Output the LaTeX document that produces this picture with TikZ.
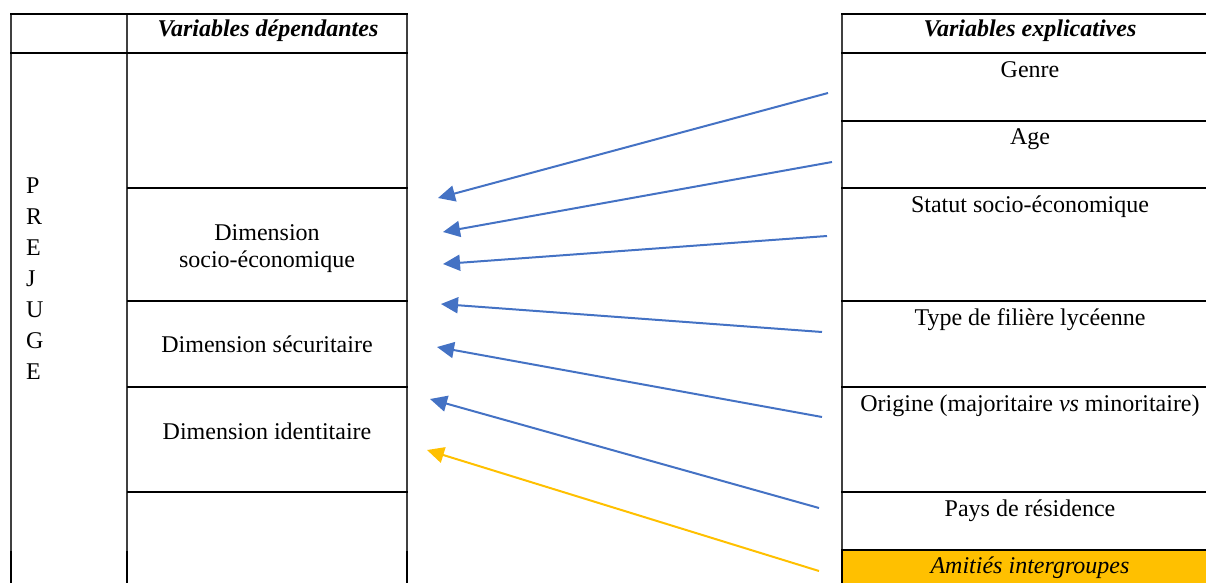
\documentclass[tikz,border=0pt]{standalone}
\usepackage{fontspec}
\setmainfont{Liberation Serif}
\usetikzlibrary{arrows.meta}

\definecolor{fleche}{HTML}{4472C4}
\definecolor{amitie}{HTML}{FFC000}

\begin{document}
\begin{tikzpicture}[x=1pt,y=-1pt,
    trait/.style={line width=2pt},
    bord/.style={line width=1.2pt,black!75},
    texte/.style={font=\fontsize{24}{27.5}\selectfont,inner sep=0pt},
    titre/.style={inner sep=0pt,font=\fontsize{24}{27.5}\selectfont\bfseries\itshape},
    lien/.style={line width=2pt,-{Triangle[length=17pt,width=16pt]}}]
    \useasboundingbox (0,0) rectangle (1206,583);

    % fond
    \fill[amitie] (842,550) rectangle (1206,583);

    % tableau gauche
    \foreach \x in {11,127,407}
        \draw[bord] (\x,14) -- (\x,583);
    \foreach \x in {11,127,407}
        \draw[trait] (\x,551) -- (\x,583);
    \draw[trait] (10,14) -- (408,14);
    \draw[trait] (10,53) -- (408,53);
    \foreach \y in {188,301,387,492}
        \draw[trait] (127,\y) -- (408,\y);

    % tableau droit
    \draw[bord] (842,14) -- (842,583);
    \draw[trait] (842,550) -- (842,583);
    \foreach \y in {14,53,121,188,301,387,492,550}
        \draw[trait] (841,\y) -- (1206,\y);

    % titres
    \node[titre,anchor=base] (hdep) at (268,36.5) {Variables dépendantes};
    \node[titre,anchor=base] (hexp) at (1030,36.5) {Variables explicatives};

    % gauche
    \foreach \l [count=\i] in {P,R,E,J,U,G,E}
        \node[texte,anchor=base west] (prejuge\i) at (26,{193.3+(\i-1)*31.1}) {\l};
    \node[texte,align=center] (dsoc) at (267,248.7) {Dimension\\socio-économique};
    \node[texte,anchor=base] (dsec) at (267,352.7) {Dimension sécuritaire};
    \node[texte,anchor=base] (did) at (267,439.5) {Dimension identitaire};

    % droite
    \node[texte,anchor=base] (genre) at (1030,78) {Genre};
    \node[texte,anchor=base] (age) at (1030,144.5) {Age};
    \node[texte,anchor=base] (statut) at (1030,212) {Statut socio-économique};
    \node[texte,anchor=base] (filiere) at (1030,325) {Type de filière lycéenne};
    \node[texte,anchor=base] (origine) at (1030,411) {Origine (majoritaire \textit{vs} minoritaire)};
    \node[texte,anchor=base] (pays) at (1030,516) {Pays de résidence};
    \node[texte,anchor=base] (amities) at (1030,573) {\textit{Amitiés intergroupes}};

    % fleches
    \foreach \dx/\dy/\ax/\ay [count=\i] in {828/93/438/198, 832/162/443/232,
            827/236/443/264, 822/332/441/304, 822/417/437/347,
            819/508/430/399, 819/571/427/450} {
        \coordinate (depart\i) at (\dx,\dy);
        \coordinate (arrivee\i) at (\ax,\ay);
    }
    \foreach \i in {1,...,6}
        \draw[lien,fleche] (depart\i) -- (arrivee\i);
    \draw[lien,amitie] (depart7) -- (arrivee7);
\end{tikzpicture}
\end{document}
